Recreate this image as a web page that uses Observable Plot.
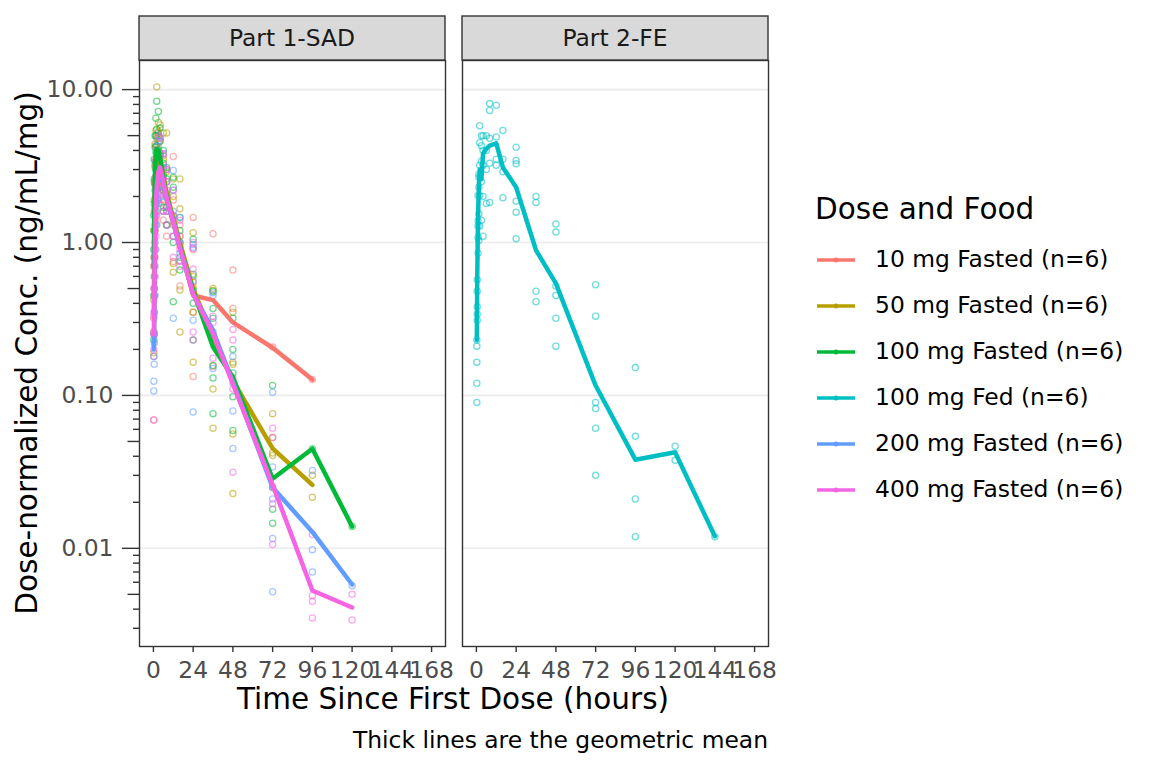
<!DOCTYPE html>
<html><head><meta charset="utf-8">
<script src="https://cdn.jsdelivr.net/npm/d3@7"></script>
<script src="https://cdn.jsdelivr.net/npm/@observablehq/plot@0.6"></script>
<style>
html,body{margin:0;padding:0;background:#fff;}
#wrap{position:relative;width:1152px;height:768px;font-family:"DejaVu Sans",sans-serif;overflow:hidden;background:#fff;}
#chart{position:absolute;left:0;top:0;}
.t{position:absolute;white-space:nowrap;line-height:1;}
</style></head><body>
<div id="wrap">
  <div id="chart"></div>
  <div class="t" id="ytitle" style="left:28px;top:353px;font-size:29.5px;color:#000;transform:translate(-50%,-50%) rotate(-90deg);">Dose-normalized Conc. (ng/mL/mg)</div>
  <div class="t" id="xtitle" style="left:453px;top:700px;font-size:29.5px;color:#000;transform:translate(-50%,-50%);">Time Since First Dose (hours)</div>
  <div class="t" id="caption" style="right:384px;top:741px;font-size:23.4px;color:#000;transform:translateY(-50%);">Thick lines are the geometric mean</div>
  <div id="legend"></div>
</div>
<script>
// ---------- data ----------
const panels = ["Part 1-SAD", "Part 2-FE"];
const groups = ["10 mg Fasted (n=6)", "50 mg Fasted (n=6)", "100 mg Fasted (n=6)", "100 mg Fed (n=6)", "200 mg Fasted (n=6)", "400 mg Fasted (n=6)"];
const groupPanel = [0, 0, 0, 1, 0, 0];
const colors = ["#F8766D", "#B79F00", "#00BA38", "#00BFC4", "#619CFF", "#F564E3"];
const legendTitle = "Dose and Food";

const xTicks = [0, 24, 48, 72, 96, 120, 144, 168];
const yMajor = [0.01, 0.1, 1, 10];
const yMajorLabels = ["0.01", "0.10", "1.00", "10.00"];
const yMid = [0.005, 0.05, 0.5, 5];
const yMinor = [0.003, 0.004, 0.006, 0.007, 0.008, 0.009, 0.02, 0.03, 0.04, 0.06, 0.07, 0.08, 0.09,
                0.2, 0.3, 0.4, 0.6, 0.7, 0.8, 0.9, 2, 3, 4, 6, 7, 8, 9];

const timesSAD = [0.25, 0.5, 1, 1.5, 2, 3, 4, 6, 8, 12, 16, 24, 36, 48, 72, 96, 120];
const timesFE  = [0.25, 0.5, 1, 1.5, 2, 3, 4, 6, 8, 12, 16, 24, 36, 48, 72, 96, 120, 144];

// geometric means (thick lines)
const mean10  = [null, 0.7, 1.6, 2.3, 2.7, 3.0, 2.9, 2.3, 1.9, 1.35, 0.95, 0.45, 0.42, 0.30, 0.205, 0.127, null];
const mean50  = [0.35, 0.9, 2.2, 3.0, 3.6, 3.9, 3.6, 2.7, 2.1, 1.45, 1.0, 0.5, 0.24, 0.125, 0.045, 0.026, null];
const mean100 = [0.7, 1.6, 3.0, 3.8, 4.1, 4.0, 3.6, 2.6, 2.0, 1.4, 0.95, 0.48, 0.207, 0.132, 0.0285, 0.0448, 0.0139];
const meanFed = [0.23, 0.6, 1.5, 2.4, 3.0, 2.6, 3.8, 4.1, 4.3, 4.45, 3.1, 2.3, 0.89, 0.54, 0.116, 0.038, 0.0425, 0.012];
const mean200 = [0.2, 0.28, 0.9, 1.6, 2.1, 2.7, 2.9, 2.4, 1.9, 1.35, 0.92, 0.46, 0.266, 0.122, 0.025, 0.0128, 0.0058];
const mean400 = [0.25, 0.4, 1.1, 1.8, 2.3, 2.9, 3.1, 2.5, 1.95, 1.38, 0.93, 0.46, 0.253, 0.119, 0.026, 0.0053, 0.0041];

// individual concentrations (one list per time point)
const conc10 = [
  [0.069, 0.18, 0.32], [0.25, 0.5, 0.8, 1.2, 1.6], [0.8, 1.3, 1.7, 2.4, 3.1], [1.4, 2.0, 2.6, 3.3, 4.2],
  [1.6, 2.3, 2.9, 3.6, 4.8], [1.9, 2.6, 3.2, 3.9, 5.2], [1.8, 2.5, 3.0, 3.8, 4.6], [1.4, 1.9, 2.4, 3.0, 3.7],
  [1.1, 1.6, 2.0, 2.5, 3.0], [0.75, 1.1, 1.4, 1.9, 3.65], [0.52, 0.75, 0.95, 1.3], [0.133, 0.35, 0.55, 0.9, 1.46],
  [1.14, 0.155], [0.66, 0.37, 0.13], [0.207], [0.127], []
];
const conc50 = [
  [0.19, 0.26, 0.42, 0.7], [0.45, 0.8, 1.2, 1.9, 2.5], [1.2, 1.9, 2.5, 3.4, 4.4], [1.8, 2.7, 3.4, 4.3, 5.4],
  [2.2, 3.1, 3.9, 5.0, 10.4], [2.5, 3.4, 4.2, 5.3, 6.1], [2.3, 3.0, 3.8, 4.8, 5.9], [1.6, 2.2, 2.8, 3.5, 5.2],
  [1.3, 1.7, 2.2, 2.9, 5.2], [0.64, 0.73, 1.3, 2.0, 2.6], [0.26, 0.49, 1.1, 1.66, 2.6], [0.165, 0.35, 0.51, 0.6, 1.16],
  [0.061, 0.11, 0.24, 0.485, 0.5], [0.0228, 0.056, 0.16, 0.165, 0.35], [0.076, 0.053, 0.042, 0.0405], [0.030, 0.0216], []
];
const conc100 = [
  [0.23, 0.45, 0.9, 1.5], [0.6, 1.2, 1.8, 2.6, 3.5], [1.6, 2.4, 3.2, 4.2, 5.0], [2.2, 3.0, 3.9, 5.0, 6.5],
  [2.5, 3.4, 4.3, 5.5, 8.4], [2.6, 3.3, 4.0, 5.0, 7.2], [2.4, 3.0, 3.7, 4.6, 5.6], [1.7, 2.2, 2.7, 3.3, 4.0],
  [1.3, 1.7, 2.1, 2.6, 3.1], [0.41, 1.0, 1.5, 2.3, 2.67], [0.66, 0.8, 1.0, 1.2, 1.46], [0.23, 0.4, 0.49, 0.62, 1.05],
  [0.076, 0.13, 0.157, 0.32, 0.37, 0.48], [0.059, 0.098, 0.14, 0.20, 0.32], [0.116, 0.025, 0.018, 0.0146], [0.0448], [0.0139]
];
const concFed = [
  [0.09, 0.12, 0.165, 0.21, 0.23], [0.31, 0.34, 0.38, 0.48, 0.57], [0.85, 1.08, 1.28, 1.39, 2.03], [1.03, 1.54, 2.3, 2.67, 2.8],
  [1.28, 2.03, 3.2, 4.5, 5.8], [1.4, 2.5, 3.4, 4.3, 5.0], [1.1, 2.0, 3.2, 4.0, 5.0], [1.8, 3.0, 4.0, 5.0],
  [1.83, 3.3, 4.8, 7.3, 8.1], [3.2, 3.5, 4.9, 7.9], [1.96, 2.9, 3.5, 5.4], [1.06, 1.58, 1.86, 3.27, 3.44, 4.2],
  [0.41, 0.48, 1.83, 2.0], [0.21, 0.32, 0.45, 0.52, 1.17, 1.32], [0.030, 0.061, 0.082, 0.09, 0.33, 0.53],
  [0.0119, 0.021, 0.054, 0.152], [0.0376, 0.0465], [0.0119]
];
const conc200 = [
  [0.107, 0.124, 0.18, 0.25], [0.16, 0.22, 0.35, 0.5], [0.45, 0.7, 1.0, 1.5, 2.2], [0.9, 1.3, 1.8, 2.6, 3.4],
  [1.3, 1.8, 2.3, 3.0, 4.3], [1.8, 2.3, 2.9, 3.6, 4.6], [2.0, 2.5, 3.0, 3.7, 4.9], [1.6, 2.0, 2.5, 3.1, 3.8],
  [1.3, 1.6, 2.0, 2.5, 3.0], [0.32, 1.1, 1.6, 2.2, 2.96], [0.76, 0.85, 1.0, 1.46], [0.078, 0.31, 0.56, 0.93, 0.97],
  [0.15, 0.26, 0.45, 0.47], [0.045, 0.079, 0.12, 0.18], [0.105, 0.034, 0.021, 0.0116, 0.0052], [0.0323, 0.0098, 0.0070], [0.0057]
];
const conc400 = [
  [0.069, 0.2, 0.26, 0.33], [0.25, 0.35, 0.5, 0.7], [0.6, 0.9, 1.2, 1.7, 2.4], [1.1, 1.5, 2.0, 2.7, 3.5],
  [1.5, 2.0, 2.5, 3.2, 4.0], [1.9, 2.4, 3.0, 3.6, 5.0], [2.1, 2.6, 3.2, 3.8, 4.8], [1.6, 2.1, 2.6, 3.2, 3.8],
  [1.3, 1.6, 2.0, 2.5, 3.0], [0.8, 1.1, 1.5, 2.2], [0.7, 0.9, 1.1, 1.4], [0.23, 0.26, 0.67, 0.91, 1.0],
  [0.175, 0.23, 0.30, 0.33], [0.0315, 0.11, 0.23, 0.27], [0.061, 0.053, 0.025, 0.0196, 0.0106], [0.0123, 0.0049, 0.0045, 0.0035], [0.005, 0.0034]
];

// ---------- build tables ----------
const seriesTimes = [timesSAD, timesSAD, timesSAD, timesFE, timesSAD, timesSAD];
const seriesMeans = [mean10, mean50, mean100, meanFed, mean200, mean400];
const seriesConc  = [conc10, conc50, conc100, concFed, conc200, conc400];

const points = [];
const means = [];
groups.forEach((g, gi) => {
  const panel = panels[groupPanel[gi]];
  seriesTimes[gi].forEach((t, ti) => {
    (seriesConc[gi][ti] || []).forEach(v => points.push({panel, group: g, t, v}));
    const m = seriesMeans[gi][ti];
    if (m != null) means.push({panel, group: g, t, v: m});
  });
});

// ---------- chart ----------
const chart = Plot.plot({
  width: 800,
  height: 700,
  marginLeft: 139,
  marginRight: 32,
  marginTop: 60,
  marginBottom: 54,
  style: {fontFamily: "DejaVu Sans", background: "transparent", overflow: "visible"},
  fx: {domain: panels, paddingInner: 17 / 323, paddingOuter: 0, round: false, axis: null, label: null},
  x: {domain: [-8.4, 176.4], axis: null},
  y: {type: "log", domain: [0.00228, 15.5], axis: null},
  color: {domain: groups, range: colors},
  marks: [
    Plot.gridY(yMajor, {stroke: "#ebebeb", strokeOpacity: 1, strokeWidth: 1.6}),
    Plot.dot(points, {fx: "panel", x: "t", y: "v", stroke: "group", fill: "none", r: 3.1, strokeWidth: 1.3, strokeOpacity: 0.55}),
    Plot.line(means, {fx: "panel", x: "t", y: "v", stroke: "group", z: "group", strokeWidth: 4.5, strokeLinejoin: "round"}),
    Plot.frame({stroke: "#333333", strokeWidth: 1.4}),
    Plot.axisX(xTicks, {anchor: "bottom", tickSize: 6, tickPadding: 9, fontSize: 23.4, stroke: "#333333", strokeWidth: 1.4, fill: "#4d4d4d", label: null, tickFormat: d => String(d)}),
    Plot.axisY(yMajor, {anchor: "left", tickSize: 17, tickPadding: 9, fontSize: 23.4, stroke: "#333333", strokeWidth: 1.4, fill: "#4d4d4d", label: null, tickFormat: d => yMajorLabels[yMajor.indexOf(d)]}),
    Plot.axisY(yMid, {anchor: "left", tickSize: 11.5, text: null, stroke: "#333333", strokeWidth: 1.4, label: null}),
    Plot.axisY(yMinor, {anchor: "left", tickSize: 6, text: null, stroke: "#333333", strokeWidth: 1.4, label: null})
  ]
});
document.getElementById("chart").appendChild(chart);

// facet strips (positions from the fx scale)
const fx = chart.scale("fx");
const svg = d3.select(chart);
panels.forEach(p => {
  const x0 = fx.apply(p);
  const bw = fx.bandwidth;
  const g = svg.append("g");
  g.append("rect").attr("x", x0).attr("y", 16).attr("width", bw).attr("height", 44)
    .attr("fill", "#d9d9d9").attr("stroke", "#333333").attr("stroke-width", 1.4);
  g.append("text").attr("x", x0 + bw / 2).attr("y", 38).attr("text-anchor", "middle")
    .attr("dominant-baseline", "central").attr("font-size", 23.4).attr("fill", "#1a1a1a")
    .attr("font-family", "DejaVu Sans").text(p);
});

// legend
const leg = d3.select("#legend");
leg.append("div").attr("class", "t").style("left", "815px").style("top", "210px")
  .style("font-size", "29.5px").style("transform", "translateY(-50%)").text(legendTitle);
groups.forEach((g, i) => {
  const cy = 260 + 46 * i;
  const s = leg.append("svg").style("position", "absolute").style("left", "812px").style("top", (cy - 10) + "px")
    .attr("width", 50).attr("height", 20);
  s.append("line").attr("x1", 5).attr("x2", 43).attr("y1", 10).attr("y2", 10)
    .attr("stroke", colors[i]).attr("stroke-width", 3.5);
  s.append("circle").attr("cx", 24).attr("cy", 10).attr("r", 2.5).attr("fill", colors[i]);
  leg.append("div").attr("class", "t").style("left", "875px").style("top", cy + "px")
    .style("font-size", "23.4px").style("transform", "translateY(-50%)").text(g);
});
</script>
</body></html>
